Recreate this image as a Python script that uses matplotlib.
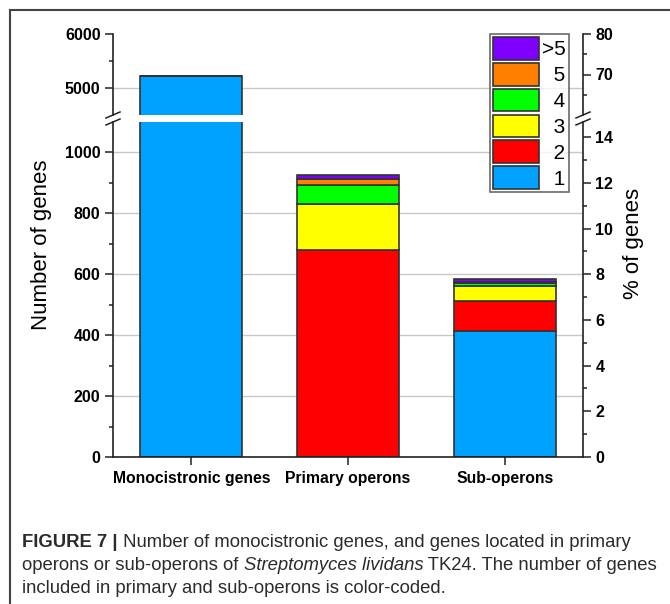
import numpy as np
import matplotlib.pyplot as plt
from matplotlib.lines import Line2D
from matplotlib.patches import Patch
from matplotlib.font_manager import FontProperties

plt.rcParams['font.family'] = ['Liberation Sans', 'DejaVu Sans']

# genes per category, split by number of genes in the operon
categories = ['Monocistronic genes', 'Primary operons', 'Sub-operons']
size_labels = ['1', '2', '3', '4', '5', '>5']
genes_1 = [5230, 0, 415]
genes_2 = [0, 680, 96]
genes_3 = [0, 150, 49]
genes_4 = [0, 64, 10]
genes_5 = [0, 20, 5]
genes_gt5 = [0, 13, 10]
size_colors = ['#00a2ff', '#ff0000', '#ffff00', '#00ff00', '#ff8000', '#8000ff']
total_genes = 7500  # for the % axis

stacks = [genes_1, genes_2, genes_3, genes_4, genes_5, genes_gt5]

W, H = 670, 604
fig = plt.figure(figsize=(W / 100, H / 100), dpi=100)


def px_box(x0, y0, x1, y1):
    return [x0 / W, 1 - y1 / H, (x1 - x0) / W, (y1 - y0) / H]


ax_top = fig.add_axes(px_box(113, 34, 583, 115))
ax_bot = fig.add_axes(px_box(113, 122, 583, 457))

spine_col = '#222222'
x = np.arange(len(categories))
for ax in (ax_top, ax_bot):
    bottom = np.zeros(len(categories))
    for vals, col in zip(stacks, size_colors):
        vals = np.array(vals, dtype=float)
        ax.bar(x, vals, 0.65, bottom=bottom, color=col,
               edgecolor='#333333', linewidth=1.2, zorder=2)
        bottom += vals
    ax.set_xlim(-0.5, 2.5)
    ax.yaxis.grid(True, color='#c8c8c8', lw=1)
    ax.set_axisbelow(True)
    for s in ('top', 'right'):
        ax.spines[s].set_visible(False)
    ax.spines['left'].set_color(spine_col)
    ax.spines['left'].set_linewidth(1.2)
    ax.tick_params(axis='y', which='major', direction='out', length=6,
                   width=1.1, pad=3, labelsize=11.5, color=spine_col)
    ax.tick_params(axis='y', which='minor', direction='out', length=3,
                   width=1.1, color=spine_col)

# left axis ranges
ax_top.set_ylim(4500, 6000)
ax_top.set_yticks([5000, 6000], labels=['5000', '6000'], fontweight='bold')
ax_top.set_yticks([5500], minor=True)
ax_top.get_ygridlines()[-1].set_visible(False)
ax_top.spines['bottom'].set_visible(False)
ax_top.set_xticks([])

ax_bot.set_ylim(0, 1100)
lo_ticks = np.arange(0, 1001, 200)
ax_bot.set_yticks(lo_ticks, labels=[str(t) for t in lo_ticks], fontweight='bold')
ax_bot.set_yticks(np.arange(100, 1100, 200), minor=True)
ax_bot.spines['bottom'].set_color(spine_col)
ax_bot.spines['bottom'].set_linewidth(1.2)
ax_bot.set_xticks(x, labels=categories, fontweight='bold', fontsize=11.3)
ax_bot.tick_params(axis='x', direction='out', length=6, width=1.1,
                   pad=4, color=spine_col)

# right axis in % of all genes
for ax, ticks, minor in ((ax_top, [70, 80], [65, 75]),
                         (ax_bot, np.arange(0, 15, 2), np.arange(1, 15, 2))):
    rt = ax.twinx()
    lo, hi = ax.get_ylim()
    rt.set_ylim(lo * 100 / total_genes, hi * 100 / total_genes)
    rt.set_yticks(ticks, labels=[str(t) for t in ticks], fontweight='bold')
    rt.set_yticks(minor, minor=True)
    for s in ('top', 'left', 'bottom'):
        rt.spines[s].set_visible(False)
    rt.spines['right'].set_color(spine_col)
    rt.spines['right'].set_linewidth(1.2)
    rt.tick_params(axis='y', which='major', direction='out', length=6,
                   width=1.1, pad=3, labelsize=11.5, color=spine_col)
    rt.tick_params(axis='y', which='minor', direction='out', length=3,
                   width=1.1, color=spine_col)

# break marks on both spines
for sx in (113, 583):
    for sy in (115, 122):
        fig.add_artist(Line2D([(sx - 7) / W, (sx + 7) / W],
                              [1 - (sy + 3) / H, 1 - (sy - 3) / H],
                              color=spine_col, lw=1.1))

fig.text(42 / W, 1 - 245 / H, 'Number of genes', rotation=90,
         ha='center', va='center', fontsize=16)
fig.text(633 / W, 1 - 243 / H, '% of genes', rotation=90,
         ha='center', va='center', fontsize=16)

# legend, largest operons on top
handles = [Patch(facecolor=c, edgecolor='#333333', linewidth=1.2)
           for c in size_colors][::-1]
labels = ['>5', '\u20075', '\u20074', '\u20073', '\u20072', '\u20071']
leg = fig.legend(handles, labels, loc='upper left',
                 bbox_to_anchor=(490 / W, 1 - 34 / H),
                 prop=FontProperties(family=['Liberation Sans', 'DejaVu Sans'], size=15),
                 frameon=True, fancybox=False, edgecolor='#444444',
                 handlelength=2.2, handleheight=1.3, labelspacing=0.15,
                 handletextpad=0.15, borderpad=0.15, borderaxespad=0)
leg.get_frame().set_linewidth(1.2)

# frame around the figure panel
fig.add_artist(Line2D([10 / W, 10 / W], [0, 1 - 10 / H], color='#444444', lw=1.5))
fig.add_artist(Line2D([10 / W, 1], [1 - 10 / H, 1 - 10 / H], color='#444444', lw=1.5))

# caption
cap_kw = dict(fontsize=13.3, color='#2b2b2b')
cap_lines = [
    [('FIGURE 7 |', dict(fontweight='bold')),
     (' Number of monocistronic genes, and genes located in primary', {})],
    [('operons or sub-operons of ', {}),
     ('Streptomyces lividans', dict(fontstyle='italic')),
     (' TK24. The number of genes', {})],
    [('included in primary and sub-operons is color-coded.', {})],
]
for i, pieces in enumerate(cap_lines):
    y = 1 - (551 + 23 * i) / H
    prev = None
    for txt, kw in pieces:
        if prev is None:
            prev = fig.text(22 / W, y, txt, ha='left', va='bottom', **cap_kw, **kw)
        else:
            prev = ax_bot.annotate(txt, xy=(1, 0), xycoords=prev, ha='left',
                                   va='bottom', annotation_clip=False, **cap_kw, **kw)

fig.savefig('out.png', dpi=100)
